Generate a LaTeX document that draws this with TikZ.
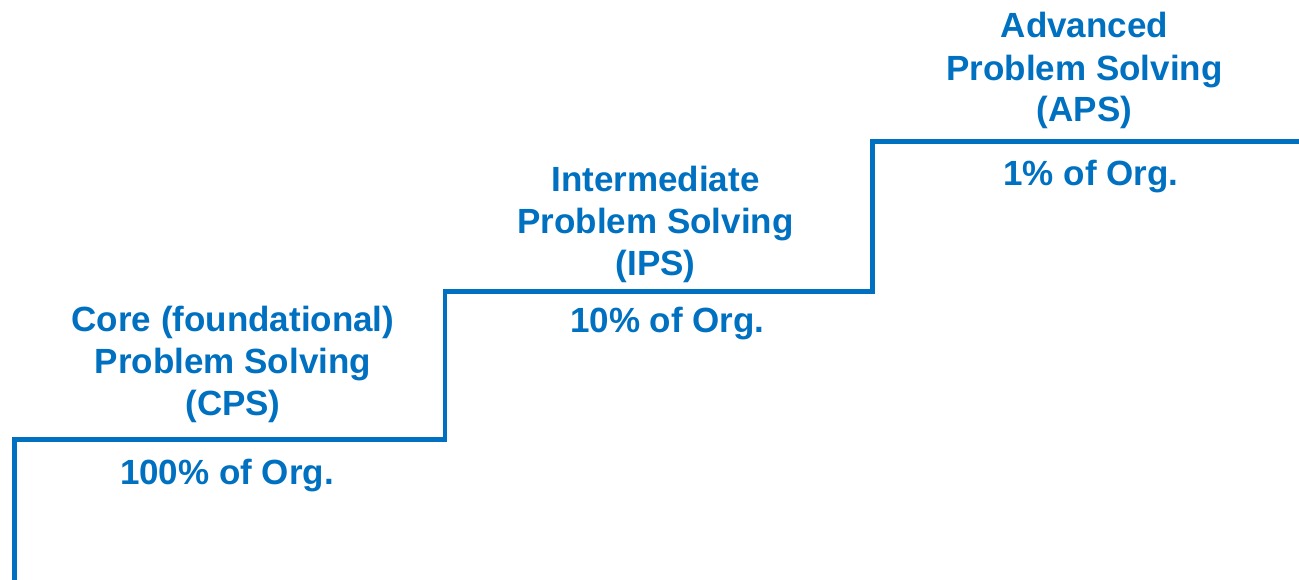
\documentclass[tikz,border=0pt]{standalone}
\usepackage{fontspec}
\setmainfont{Liberation Sans}
\definecolor{stepblue}{HTML}{0070C0}
\begin{document}
\begin{tikzpicture}[x=1pt,y=-1pt,
  stair/.style={draw=stepblue,line width=4.5pt,line join=miter,line cap=butt},
  lvl/.style={anchor=base,inner sep=0pt,text=stepblue,
    font=\fontsize{35}{42}\selectfont\bfseries}]
\useasboundingbox (0,0) rectangle (1299,580);

% staircase corners
\coordinate (s0) at (14.5,580);
\coordinate (s1) at (14.5,439.5);
\coordinate (s2) at (445,439.5);
\coordinate (s3) at (445,291.7);
\coordinate (s4) at (872.3,291.7);
\coordinate (s5) at (872.3,141.7);
\coordinate (s6) at (1299,141.7);
\draw[stair] (s0) -- (s1) -- (s2) -- (s3) -- (s4) -- (s5) -- (s6);

% first step: core problem solving
\node[lvl] (cps1) at (233,331.5) {Core (foundational)};
\node[lvl] (cps2) at (233,373.5) {Problem Solving};
\node[lvl] (cps3) at (233,415) {(CPS)};
\node[lvl] (cpsp) at (227,484.7) {100\% of Org.};

% second step: intermediate problem solving
\node[lvl] (ips1) at (655.5,192) {Intermediate};
\node[lvl] (ips2) at (655.5,233.7) {Problem Solving};
\node[lvl] (ips3) at (655.5,275.3) {(IPS)};
\node[lvl] (ipsp) at (667.5,332) {10\% of Org.};

% third step: advanced problem solving
\node[lvl] (aps1) at (1084.5,38) {Advanced};
\node[lvl] (aps2) at (1084.5,80.3) {Problem Solving};
\node[lvl] (aps3) at (1084.5,122) {(APS)};
\node[lvl] (apsp) at (1091,186) {1\% of Org.};
\end{tikzpicture}
\end{document}
